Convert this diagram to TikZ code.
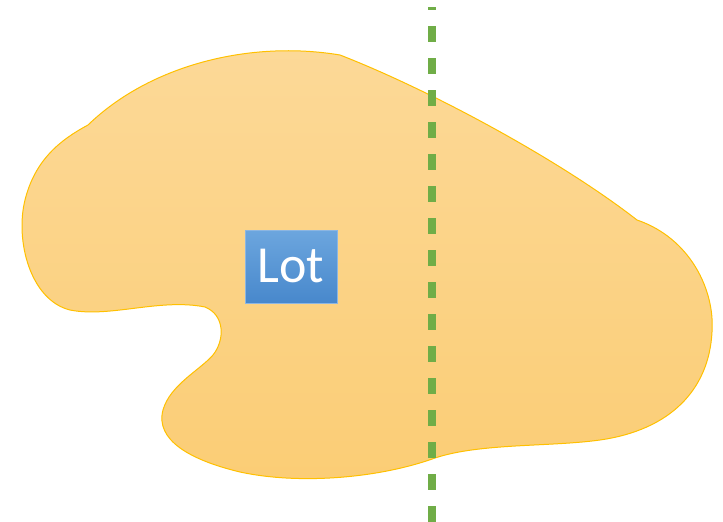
\documentclass[tikz,border=0pt]{standalone}
\usepackage{fontspec}
\setmainfont{Carlito}
\definecolor{blobtop}{RGB}{252,217,152}
\definecolor{blobbot}{RGB}{251,205,117}
\definecolor{blobedge}{RGB}{255,192,0}
\definecolor{boxtop}{RGB}{108,166,222}
\definecolor{boxbot}{RGB}{72,136,204}
\definecolor{boxedge}{RGB}{140,182,226}
\definecolor{dashgreen}{RGB}{112,173,71}
\tikzset{
  blob/.style={top color=blobtop, bottom color=blobbot, draw=blobedge, line width=1pt},
  lotbox/.style={top color=boxtop, bottom color=boxbot, draw=boxedge, line width=0.8pt,
    minimum width=92pt, minimum height=73pt, inner sep=0pt, text=white,
    font=\fontsize{52}{52}\selectfont},
  divider/.style={dashgreen, line width=8pt, dash pattern=on 16pt off 16pt, dash phase=13pt}
}
\begin{document}
\begin{tikzpicture}[x=1pt,y=-1pt]
\useasboundingbox (0,0) rectangle (723,522);
\path[blob] (88,125) .. controls (150,65) and (250,40) .. (340,55)
  .. controls (430,90) and (560,160) .. (637,220)
  .. controls (690,238) and (715,290) .. (712,332)
  .. controls (709,390) and (670,430) .. (600,440)
  .. controls (550,447) and (480,443) .. (435,458)
  .. controls (380,478) and (300,485) .. (240,472)
  .. controls (190,460) and (155,440) .. (163,410)
  .. controls (170,385) and (200,370) .. (213,355)
  .. controls (225,340) and (225,315) .. (205,307)
  .. controls (160,298) and (110,318) .. (70,310)
  .. controls (30,300) and (15,240) .. (25,200)
  .. controls (35,160) and (60,140) .. (88,125) -- cycle;
\node[lotbox] (lot) at (291,266.5) {Lot};
\coordinate (dtop) at (432,7);
\coordinate (dbot) at (432,522);
\draw[divider] (dtop) -- (dbot);
\end{tikzpicture}
\end{document}
